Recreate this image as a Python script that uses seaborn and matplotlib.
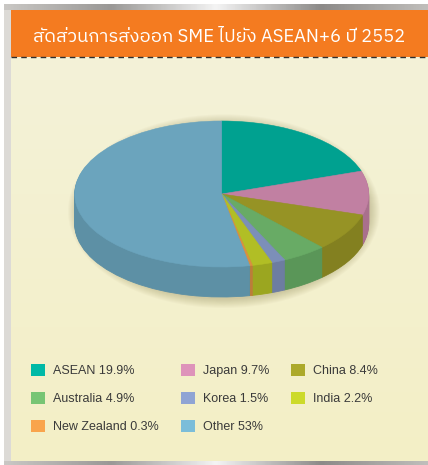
import numpy as np
import seaborn as sns
import matplotlib.pyplot as plt
from matplotlib import font_manager
from matplotlib.ft2font import FT2Font
from matplotlib.patches import Rectangle, Ellipse, Patch
from matplotlib.colors import LinearSegmentedColormap

# data
regions = ['ASEAN', 'Japan', 'China', 'Australia', 'Korea', 'India', 'New Zealand', 'Other']
shares = [19.9, 9.7, 8.4, 4.9, 1.5, 2.2, 0.3, 53.0]
share_labels = ['19.9%', '9.7%', '8.4%', '4.9%', '1.5%', '2.2%', '0.3%', '53%']
colors = ['#00b9a6', '#de93ba', '#aca92a', '#77c574', '#8fa4d4', '#ccda2a', '#f9a44c', '#7bbdd9']
title = 'สัดส่วนการส่งออก SME ไปยัง ASEAN+6 ปี 2552'

sns.set_theme(style='white')
palette = sns.color_palette(colors)

# look for a font that has thai glyphs
thai_fonts = []
for f in font_manager.fontManager.ttflist:
    try:
        if 0x0E2A in FT2Font(f.fname).get_charmap():
            thai_fonts.append(f.name)
    except Exception:
        pass
thai_fonts = sorted(set(thai_fonts), key=lambda n: (0 if 'Sans' in n else 1, n))
title_family = thai_fonts[:1] + ['DejaVu Sans']
plt.rcParams['font.family'] = ['Liberation Sans', 'DejaVu Sans']

W, H = 428, 465
fig = plt.figure(figsize=(W / 100, H / 100), dpi=100)
fig.patch.set_facecolor('white')

# background panel
bg = fig.add_axes([0, 0, 1, 1])
bg.add_patch(Rectangle((4, 4), W - 4, H - 4, color='#dcdad6', lw=0, zorder=0))
band = LinearSegmentedColormap.from_list('band', ['#c9c7c4', '#9a9896', '#f4f4f4', '#8c8a88', '#c0bebb'])
bg.imshow(np.linspace(0, 1, 200)[None, :], cmap=band, extent=(4, W, 10, 4),
          aspect='auto', zorder=1)
bg.imshow(np.linspace(0, 1, 200)[None, :], cmap=band, extent=(4, W, H, 461),
          aspect='auto', zorder=1)
cream = LinearSegmentedColormap.from_list('cream', ['#f4f2d8', '#f3efc6'])
bg.imshow(np.linspace(0, 1, 100)[:, None], cmap=cream, extent=(11, W, 461, 57),
          aspect='auto', zorder=1)
bg.add_patch(Rectangle((11, 10), W - 11, 47, color='#f47b20', lw=0, zorder=2))
bg.plot([11, W], [57.5, 57.5], ls=(0, (4, 3)), color='#2f2f2f', lw=1, zorder=3)
bg.text((11 + W) / 2, 41.5, title, color='white', fontsize=13.2, ha='center',
        va='baseline', family=title_family, zorder=4)
bg.set_xlim(0, W)
bg.set_ylim(H, 0)
bg.axis('off')

# 3d pie: ellipse centre and radii in pixels
cx, cy, a, b, depth = 221.7, 194, 147, 73, 30
ax = fig.add_axes([0, 0, 1, 1])
ax.patch.set_alpha(0)
t = depth / b

# soft shadow
for e in np.linspace(0.06, 0.0, 10):
    ax.add_patch(Ellipse((0.015, -t / 2 - 0.03), 2 * (1 + e), 2 * (1 + t / 2 + e * a / b),
                         color='#7a6f35', alpha=0.03, lw=0))

top = [tuple(np.array(c) * 0.87) for c in palette]
side = [tuple(np.array(c) * 0.76) for c in palette]

n = 30
for k in range(n, 0, -1):
    wedges, _ = ax.pie(shares, colors=side, startangle=90, counterclock=False,
                       center=(0, -t * k / n), radius=1, frame=True)
    for w in wedges:
        w.set_edgecolor(w.get_facecolor())
        w.set_linewidth(0.6)
wedges, _ = ax.pie(shares, colors=top, startangle=90, counterclock=False,
                   center=(0, 0), radius=1, frame=True)
for w in wedges:
    w.set_edgecolor(w.get_facecolor())
    w.set_linewidth(0.4)

ax.set_aspect('auto')
ax.set_xlim((0 - cx) / a, (W - cx) / a)
ax.set_ylim((cy - H) / b, cy / b)
ax.axis('off')

# legend, filled column by column
order = [0, 3, 6, 1, 4, 7, 2, 5]
handles = [Patch(facecolor=palette[i], edgecolor='none') for i in order]
labels = [f'{regions[i]} {share_labels[i]}' for i in order]
fig.legend(handles, labels, loc='upper left', bbox_to_anchor=(31 / W, 1 - 364 / H),
           ncol=3, frameon=False, fontsize=9, handlelength=1.12, handleheight=1.12,
           handletextpad=0.64, columnspacing=1.76, labelspacing=1.17,
           borderpad=0, borderaxespad=0, labelcolor='#3a3a3a')

fig.savefig('out.png', dpi=100)
